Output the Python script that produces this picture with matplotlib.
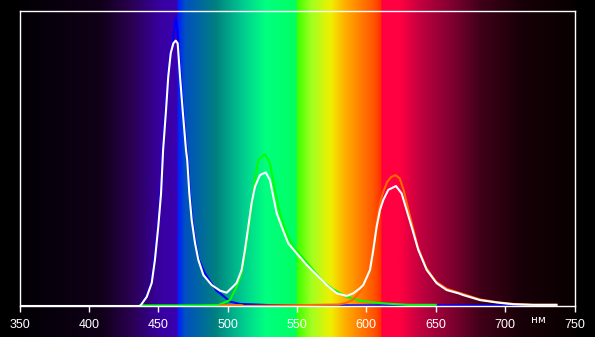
import matplotlib.pyplot as plt
import numpy as np
from matplotlib.colors import LinearSegmentedColormap

# wavelength grid for the curves, nm
white_nm = [350, 437, 441.7, 445.3, 447.6, 450, 452, 453.5, 455.6, 457.2, 459, 460.9, 462.6,
            464, 465.7, 467.6, 470, 470.9, 472.4, 474.1, 476.5, 478.9, 482.5, 488.5, 494.5,
            499.3, 502.9, 506.5, 510.1, 512.5, 514.9, 517.3, 519.7, 523.3, 527.5, 530.5, 532.9,
            535.4, 539, 543.7, 549.8, 557, 564.2, 571.4, 578.6, 585.8, 590.6, 595.4, 597.8,
            602.6, 605, 607.4, 609.8, 612.2, 615.8, 621.3, 625.4, 629, 632.6, 637.4, 643.5,
            650.7, 657.9, 666.3, 669.8, 681.9, 693.9, 705.7, 720, 737]
white_val = [0, 0, 0.031, 0.078, 0.156, 0.268, 0.38, 0.528, 0.663, 0.776, 0.856, 0.889, 0.898,
             0.889, 0.776, 0.663, 0.528, 0.494, 0.381, 0.291, 0.213, 0.156, 0.105, 0.071, 0.052,
             0.045, 0.061, 0.078, 0.122, 0.19, 0.268, 0.348, 0.404, 0.443, 0.452, 0.426, 0.37,
             0.314, 0.268, 0.212, 0.178, 0.139, 0.105, 0.071, 0.043, 0.034, 0.043, 0.06, 0.071,
             0.122, 0.19, 0.268, 0.325, 0.359, 0.393, 0.406, 0.381, 0.325, 0.268, 0.19, 0.122,
             0.077, 0.054, 0.043, 0.037, 0.02, 0.012, 0.006, 0.004, 0.004]

blue_nm = [350, 436.6, 441.3, 444.9, 447.2, 449.6, 451.6, 453.1, 455.2, 456.8, 458.6, 460.5,
           461.5, 462.6, 463.7, 464.5, 466.1, 468, 470.4, 471.3, 472.8, 474.5, 476.9, 479.3,
           483.7, 488.5, 492, 496.9, 501.7, 508.9, 530.5, 600, 713]
blue_val = [0, 0, 0.031, 0.078, 0.156, 0.268, 0.38, 0.528, 0.663, 0.776, 0.856, 0.889,
            0.94, 0.974, 0.94, 0.889, 0.776, 0.663, 0.528, 0.494, 0.381, 0.291, 0.213, 0.156,
            0.11, 0.075, 0.052, 0.034, 0.015, 0.007, 0.003, 0.002, 0.002]

green_nm = [437, 480, 493.3, 501.7, 506.5, 510.1, 513.7, 517.3, 519.7, 522.1, 526.9, 530.5,
            534.1, 537.7, 542.5, 547.3, 554.5, 561.7, 568.9, 576.2, 585.8, 595.4, 605, 615,
            630, 650]
green_val = [0.002, 0.002, 0.003, 0.02, 0.065, 0.11, 0.212, 0.336, 0.426, 0.494, 0.514, 0.483,
             0.393, 0.314, 0.246, 0.201, 0.161, 0.122, 0.082, 0.056, 0.031, 0.018, 0.012, 0.008,
             0.004, 0.004]

red_nm = [494, 497, 510, 512, 580, 585, 590, 595, 600, 605, 607.4, 610, 612, 615, 618, 621,
          624, 627, 630, 633, 637, 643, 650, 658, 666, 670, 682, 694, 706, 720, 737]
red_val = [0, 0.003, 0.003, 0, 0.005, 0.01, 0.02, 0.045, 0.085, 0.2, 0.285, 0.35, 0.385, 0.42,
           0.437, 0.443, 0.432, 0.39, 0.33, 0.275, 0.2, 0.13, 0.083, 0.058, 0.046, 0.04,
           0.022, 0.013, 0.007, 0.004, 0.004]

# background spectrum stops (nm, colour)
spec_nm = [350, 408, 430, 451, 463, 464, 469, 491, 512, 527, 549, 550, 560, 574, 584, 595,
           606, 610, 611, 624, 639, 661, 682, 711, 750]
spec_col = ['#020004', '#100018', '#2a0050', '#3800a0', '#3c00b0', '#0020ff', '#0050c0',
            '#008080', '#00d090', '#00ff80', '#00ff60', '#40ff00', '#a0ff20', '#f0f000',
            '#ffb000', '#ff8000', '#ff5000', '#ff3000', '#ff0040', '#ff0040', '#c00040',
            '#800030', '#400018', '#180008', '#080000']

xticks = [350, 400, 450, 500, 550, 600, 650, 700, 750]

W, H = 595, 337
fig = plt.figure(figsize=(W / 100, H / 100), dpi=100, facecolor='black')

left, right = 19.5 / W, 574.5 / W
bottom, top = (H - 306) / H, (H - 10.5) / H

# spectrum background over whole figure height
bg = fig.add_axes([left, 0, right - left, 1], zorder=0)
pos = [(v - 350) / 400 for v in spec_nm]
cmap = LinearSegmentedColormap.from_list('spec', list(zip(pos, spec_col)), N=1024)
grad = np.linspace(0, 1, 1024).reshape(1, -1)
bg.imshow(grad, aspect='auto', cmap=cmap, extent=[350, 750, 0, 1])
bg.set_axis_off()

ax = fig.add_axes([left, bottom, right - left, top - bottom], zorder=1)
ax.set_facecolor('none')
ax.set_xlim(350, 750)
ax.set_ylim(0, 1)

ax.plot(blue_nm, blue_val, color='#0000ff', lw=1.5)
ax.plot(green_nm, green_val, color='#00ff00', lw=1.5)
ax.plot(red_nm, red_val, color='#ff6600', lw=1.5)
ax.plot(white_nm, white_val, color='white', lw=1.5)

for s in ax.spines.values():
    s.set_color('white')
    s.set_linewidth(1.0)
ax.set_xticks(xticks)
ax.set_yticks([])
ax.tick_params(axis='x', colors='white', direction='out', length=4, width=1, pad=5,
               labelsize=9)
for lbl in ax.get_xticklabels():
    lbl.set_fontfamily('Liberation Sans')

ax.text(723.7, -0.047, 'нм', color='white', fontsize=7.5, fontfamily='DejaVu Sans',
        ha='center', va='center', clip_on=False)

plt.savefig('out.png', dpi=100, facecolor='black')
